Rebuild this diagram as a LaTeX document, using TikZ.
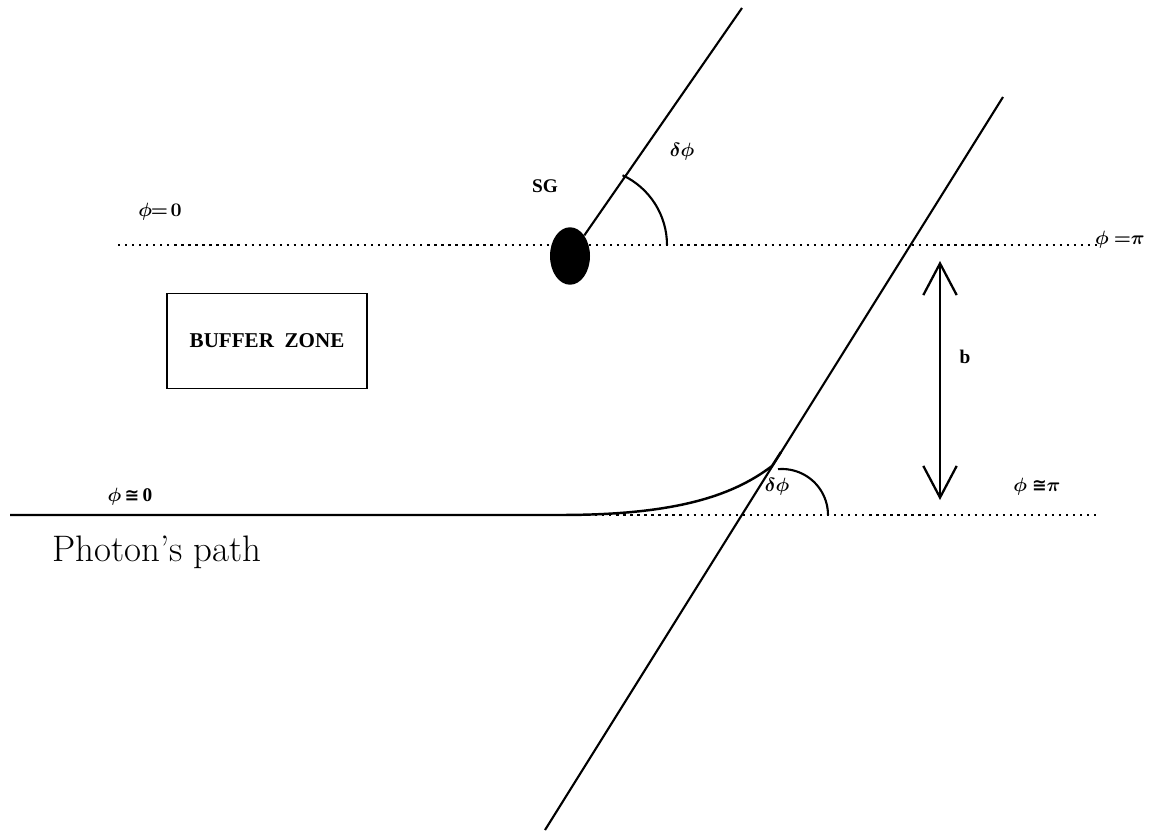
\documentclass[tikz,border=0pt]{standalone}
\usepackage{fontspec}
\newfontfamily\lblfont{Liberation Serif}
\newfontfamily\symfont{DejaVu Sans}
\usetikzlibrary{arrows.meta, positioning, shapes.geometric}

\begin{document}
\begin{tikzpicture}[
    x=0.02cm, y=-0.02cm,
    lbl/.style={font=\lblfont\bfseries\boldmath\fontsize{11}{13}\selectfont, inner sep=1pt},
    ray/.style={line width=1.2pt},
    axis/.style={line width=1.3pt, dash pattern=on 1.3pt off 2.7pt},
    zone/.style={rectangle, draw=black, line width=1.1pt, minimum width=4cm, minimum height=1.9cm},
    angle/.style={line width=1.2pt},
    gap/.style={line width=1.3pt, {Straight Barb[length=18pt, width=19pt]}-{Straight Barb[length=18pt, width=19pt]}}
]
\useasboundingbox (0,0) rectangle (1149,834);

% reference lines phi = 0 ... phi = pi
\coordinate (topL) at (118,245);
\coordinate (topR) at (1097,245);
\coordinate (start) at (10,515);
\coordinate (bend) at (560,515);
\coordinate (botR) at (1100,515);
\draw[axis] (topL) -- (topR);
\draw[axis] (bend) -- (botR);

% the galaxy and its line
\node[ellipse, fill=black, minimum width=0.8cm, minimum height=1.15cm, inner sep=0pt] (sg) at (570,256) {};
\coordinate (sgtip) at (742,8);
\draw[ray] (sg) -- (sgtip);

% the long line
\coordinate (lowend) at (545,830);
\coordinate (highend) at (1003,97);
\draw[ray] (lowend) -- (highend);

% photon's path
\coordinate (touch) at (772,466);
\coordinate (merge) at (781,452);
\draw[line width=1.4pt] (start) -- (bend) .. controls (670,515) and (730,498) .. (touch) -- (merge);

% angles
\coordinate (c1) at (590,245);
\coordinate (c2) at (782,515);
\draw[angle] ([shift={(65:1.54cm)}]c1) arc[start angle=65, end angle=0, radius=1.54cm];
\draw[angle] ([shift={(95:0.92cm)}]c2) arc[start angle=95, end angle=0, radius=0.92cm];

% impact parameter
\coordinate (gaptop) at (940,261);
\coordinate (gapbot) at (940,500);
\draw[gap] (gaptop) -- (gapbot);

% labels
\node[lbl] (phi0) at (160,212) {$\phi\!\!=\!0$};
\node[lbl] (sglbl) at (545,186) {SG};
\node[lbl] (dphi1) at (682,152) {$\delta\phi$};
\node[lbl] (phipi) at (1120,240) {$\phi\ {=}\pi$};
\node[lbl] (blbl) at (965,357) {b};
\node[lbl] (phipi2) at (1037,487) {$\phi$\ {\symfont\fontsize{10}{12}\selectfont ≅}$\pi$};
\node[lbl] (dphi2) at (777,487) {$\delta\phi$};
\node[lbl] (phi02) at (130,497) {$\phi$\,{\symfont\fontsize{10}{12}\selectfont ≅}\,0};
\node[font=\fontsize{21}{25}\selectfont] (path) at (157,552) {Photon's path};
\node[zone, lbl, font=\lblfont\bfseries\fontsize{12}{14}\selectfont, inner sep=0pt] (buffer) at (267,341) {BUFFER\ \ ZONE};

\end{tikzpicture}
\end{document}
